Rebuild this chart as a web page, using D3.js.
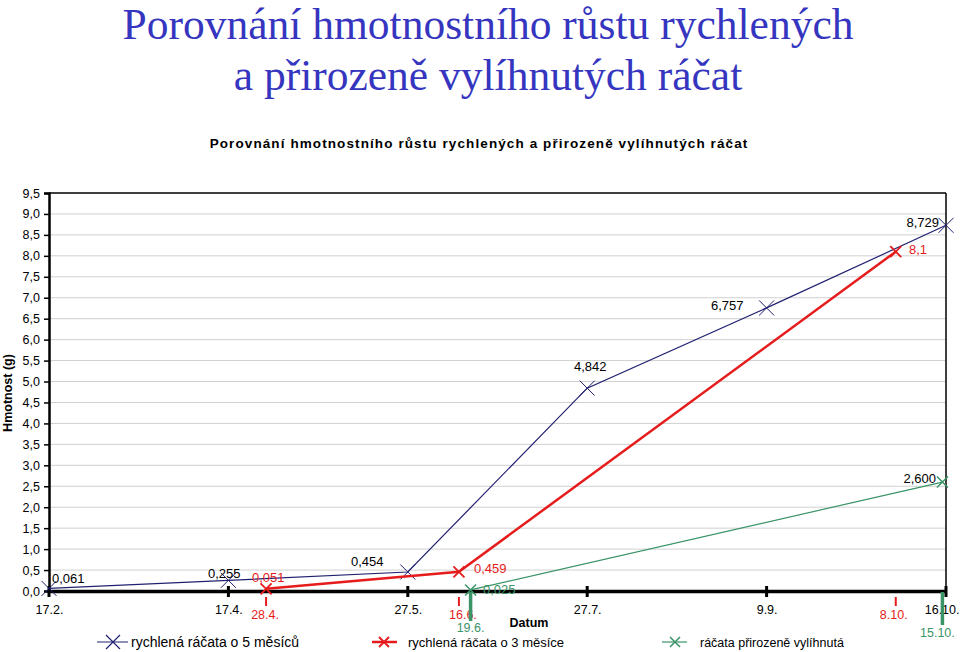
<!DOCTYPE html>
<html><head><meta charset="utf-8">
<script src="https://cdn.jsdelivr.net/npm/d3@7"></script>
<style>
body{margin:0;background:#fff;}
svg{display:block;}
text{font-family:"Liberation Sans",Arial,sans-serif;}
</style></head>
<body>
<svg id="c" width="960" height="652"></svg>
<script>
const categories = ["17.2.","17.4.","27.5.","27.7.","9.9.","16.10."];
const blueValues = [0.061,0.255,0.454,4.842,6.757,8.729];
const redPositions = [1.21,2.285,4.72];
const redValues = [0.051,0.459,8.1];
const redDates = ["28.4.","16.6.","8.10."];
const greenPositions = [2.35,4.98];
const greenValues = [0.025,2.600];
const greenDates = ["19.6.","15.10."];
const yTicks = d3.range(0,20).map(i=>i*0.5);
const seriesNames = ["rychlená ráčata o 5 měsíců","rychlená ráčata o 3 měsíce","ráčata přirozeně vylíhnutá"];

const BLUE="#202070", RED="#e61c1c", GREEN="#3a9468";
const svg=d3.select("#c");
const L=49,R=946,T=193,B=591;
const x=d3.scaleLinear().domain([0,5]).range([L,R]);
const y=d3.scaleLinear().domain([0,9.5]).range([B,T]);
const loc=d3.formatLocale({decimal:",",thousands:" ",grouping:[3],currency:["",""]});
const f1=loc.format(".1f"), f3=loc.format(".3f");

// titles
const t=svg.append("text").attr("x",488).attr("text-anchor","middle")
  .style("font-family","'Liberation Serif','Times New Roman',serif").style("font-size","43.5px").attr("fill","#3535c0");
t.append("tspan").attr("x",488).attr("y",39).text("Porovnání hmotnostního růstu rychlených");
t.append("tspan").attr("x",488).attr("y",90).text("a přirozeně vylíhnutých ráčat");
svg.append("text").attr("x",479).attr("y",148).attr("text-anchor","middle")
  .style("font-size","13.5px").style("font-weight","bold").style("letter-spacing","1.1px")
  .text("Porovnání hmotnostního růstu rychlených a přirozeně vylíhnutých ráčat");

// grid
svg.append("g").selectAll("line").data(yTicks.filter(v=>v>0&&v<9.5)).join("line")
  .attr("x1",L).attr("x2",R).attr("y1",d=>y(d)).attr("y2",d=>y(d))
  .attr("stroke","#d0d0d0").attr("stroke-width",1);
// border top/right
svg.append("line").attr("x1",L).attr("x2",R).attr("y1",T).attr("y2",T).attr("stroke","#000").attr("stroke-width",1.5);
svg.append("line").attr("x1",R).attr("x2",R).attr("y1",T).attr("y2",B).attr("stroke","#000").attr("stroke-width",1.5);

// y axis
const ya=svg.append("g").attr("transform",`translate(${L},0)`)
  .call(d3.axisLeft(y).tickValues(yTicks).tickFormat(f1).tickSize(5).tickPadding(4));
ya.select(".domain").attr("stroke-width",2.5);
ya.selectAll(".tick line").attr("stroke-width",1.5);
ya.selectAll("text").style("font-size","12.5px").attr("fill","#000");
svg.append("text").attr("transform","translate(12,393) rotate(-90)").attr("text-anchor","middle")
  .style("font-size","12.5px").style("font-weight","bold").text("Hmotnost (g)");

// x axis
const xa=svg.append("g").attr("transform",`translate(0,${B})`)
  .call(d3.axisBottom(x).tickValues(d3.range(categories.length)).tickFormat(i=>categories[i]).tickSize(0).tickPadding(14));
xa.select(".domain").attr("stroke-width",3.5);
xa.selectAll("text").style("font-size","12.5px").attr("fill","#000");
xa.selectAll(".tick").filter(d=>d===categories.length-1).select("text").attr("text-anchor","end").attr("x",13);
svg.append("g").selectAll("line").data(d3.range(categories.length)).join("line")
  .attr("x1",d=>x(d)).attr("x2",d=>x(d)).attr("y1",B-5).attr("y2",B+6)
  .attr("stroke","#000").attr("stroke-width",3);
svg.append("text").attr("x",529).attr("y",627).attr("text-anchor","middle")
  .style("font-size","12.5px").style("font-weight","bold").text("Datum");

// red date ticks
svg.append("g").selectAll("line").data(redPositions).join("line")
  .attr("x1",d=>x(d)).attr("x2",d=>x(d)).attr("y1",B+6).attr("y2",B+15)
  .attr("stroke",RED).attr("stroke-width",2);
svg.append("g").selectAll("text").data(redDates).join("text")
  .attr("x",(d,i)=>x(redPositions[i])+[-1,4,-2][i]).attr("y",619).attr("text-anchor","middle")
  .style("font-size","12.5px").attr("fill",RED).text(d=>d);
// green date ticks
svg.append("g").selectAll("line").data(greenPositions).join("line")
  .attr("x1",d=>x(d)).attr("x2",d=>x(d)).attr("y1",B+1).attr("y2",(d,i)=>B+[30,34][i])
  .attr("stroke",GREEN).attr("stroke-width",3.5);
svg.append("g").selectAll("text").data(greenDates).join("text")
  .attr("x",(d,i)=>x(greenPositions[i])+[0,-5][i]).attr("y",(d,i)=>[632,637][i]).attr("text-anchor","middle")
  .style("font-size","12.5px").attr("fill",GREEN).text(d=>d);

function cross(g,cx,cy,s,color,w){
  g.append("path").attr("d",`M${cx-s},${cy-s}L${cx+s},${cy+s}M${cx-s},${cy+s}L${cx+s},${cy-s}`)
   .attr("stroke",color).attr("stroke-width",w).attr("fill","none");
}
const line=d3.line();

// green series
const gG=svg.append("g");
gG.append("path").attr("d",line(greenPositions.map((p,i)=>[x(p),y(greenValues[i])])))
  .attr("stroke",GREEN).attr("stroke-width",1.2).attr("fill","none");
greenPositions.forEach((p,i)=>cross(gG,x(p),y(greenValues[i]),5.5,GREEN,1.5));
// blue series
const gB=svg.append("g");
gB.append("path").attr("d",line(blueValues.map((v,i)=>[x(i),y(v)])))
  .attr("stroke",BLUE).attr("stroke-width",1.2).attr("fill","none");
blueValues.forEach((v,i)=>cross(gB,x(i),y(v),7.5,BLUE,1));
// red series
const gR=svg.append("g");
gR.append("path").attr("d",line(redPositions.map((p,i)=>[x(p),y(redValues[i])])))
  .attr("stroke",RED).attr("stroke-width",2.5).attr("fill","none");
redPositions.forEach((p,i)=>cross(gR,x(p),y(redValues[i]),5.5,RED,1.8));

// data labels
const blueLbl=[[52,583,"start"],[208,578,"start"],[351,566,"start"],[574,371,"start"],[711,310,"start"],[939,227,"end"]];
svg.append("g").selectAll("text").data(blueValues).join("text")
  .attr("x",(d,i)=>blueLbl[i][0]).attr("y",(d,i)=>blueLbl[i][1]).attr("text-anchor",(d,i)=>blueLbl[i][2])
  .style("font-size","13px").attr("fill","#000").text(d=>f3(d));
const redLbl=[[252,582],[474,573],[909,254]];
svg.append("g").selectAll("text").data(redValues).join("text")
  .attr("x",(d,i)=>redLbl[i][0]).attr("y",(d,i)=>redLbl[i][1])
  .style("font-size","13px").attr("fill",RED).text(d=>d===8.1?"8,1":f3(d));
const greenLbl=[[483,594,"start"],[936,483,"end"]];
svg.append("g").selectAll("text").data(greenValues).join("text")
  .attr("x",(d,i)=>greenLbl[i][0]).attr("y",(d,i)=>greenLbl[i][1]).attr("text-anchor",(d,i)=>greenLbl[i][2])
  .style("font-size","13px").attr("fill",(d,i)=>i===0?GREEN:"#000").text(d=>f3(d));

// legend
const legend=[[97,128,113,131,BLUE,1,7,1.2,"14px"],[372,397,384,408,RED,2.5,5,1.8,"13px"],[662,687,675,700,GREEN,1.2,5,1.5,"12.5px"]];
legend.forEach((l,i)=>{
  const g=svg.append("g");
  g.append("line").attr("x1",l[0]).attr("x2",l[1]).attr("y1",642).attr("y2",642).attr("stroke",l[4]).attr("stroke-width",l[5]);
  cross(g,l[2],642,l[6],l[4],l[7]);
  g.append("text").attr("x",l[3]).attr("y",647).style("font-size",l[8]).text(seriesNames[i]);
});
</script>
</body></html>
